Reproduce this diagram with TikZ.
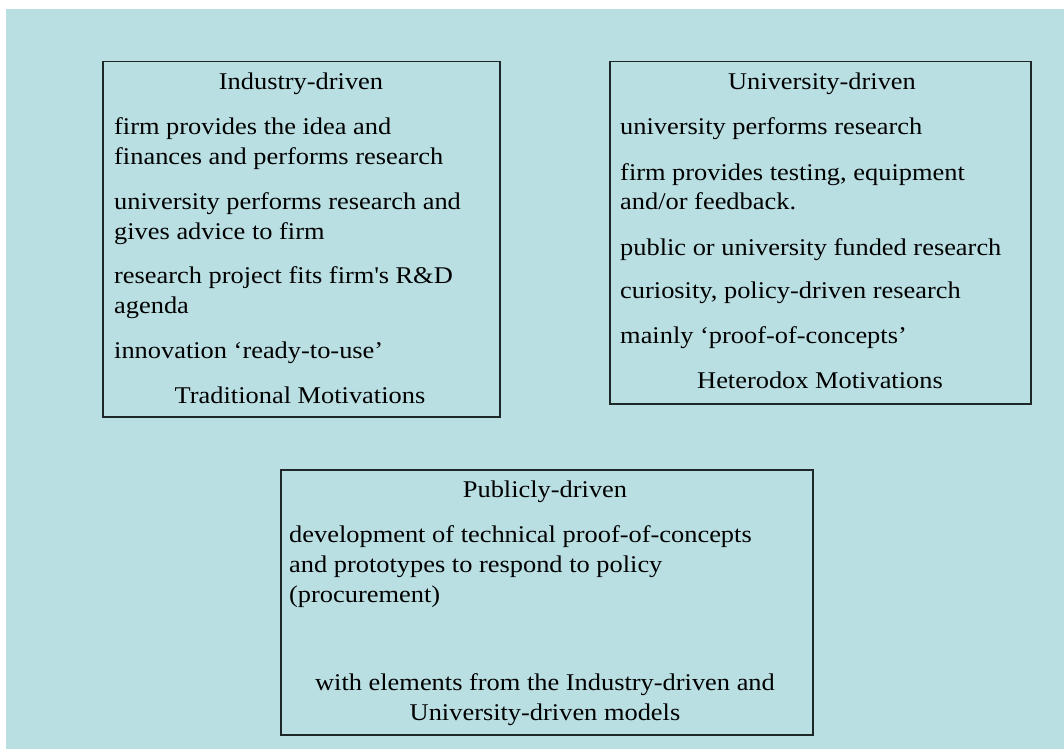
\documentclass[tikz,border=0pt]{standalone}
\usepackage{fontspec}
\setmainfont[FakeStretch=1.1]{Liberation Serif}
\definecolor{bg}{RGB}{185,223,227}
\definecolor{edge}{RGB}{30,38,40}
\begin{document}
\begin{tikzpicture}[x=1pt,y=-1pt,
  box/.style={draw=edge, line width=1.5pt, inner sep=0pt, anchor=north west},
  txt/.style={anchor=base west, inner sep=0pt, font=\fontsize{24}{29}\selectfont, text=black},
  ctr/.style={anchor=base, inner sep=0pt, font=\fontsize{24}{29}\selectfont, text=black}]
\useasboundingbox (0,0) rectangle (1064,749);
\fill[white] (0,0) rectangle (1064,749);
\fill[bg] (6,9) rectangle (1064,749);
% boxes
\node[box, minimum width=397pt, minimum height=355pt] (b1) at (102,61) {};
\node[box, minimum width=421pt, minimum height=342pt] (b2) at (609,61) {};
\node[box, minimum width=532pt, minimum height=265pt] (b3) at (280,469) {};
% box 1
\node[ctr] (t1) at (301,90) {Industry-driven};
\node[txt] (a1) at (114,135) {firm provides the idea and};
\node[txt] (a2) at (114,164) {finances and performs research};
\node[txt] (a3) at (114,209) {university performs research and};
\node[txt] (a4) at (114,239) {gives advice to firm};
\node[txt] (a5) at (114,283) {research project fits firm\textquotesingle s R\&D};
\node[txt] (a6) at (114,313) {agenda};
\node[txt] (a7) at (114,358) {innovation ‘ready-to-use’};
\node[ctr] (m1) at (300,403) {Traditional Motivations};
% box 2
\node[ctr] (t2) at (822,90) {University-driven};
\node[txt] (c1) at (620,135) {university performs research};
\node[txt] (c2) at (620,180) {firm provides testing, equipment};
\node[txt] (c3) at (620,209) {and/or feedback.};
\node[txt] (c4) at (620,255) {public or university funded research};
\node[txt] (c5) at (620,298) {curiosity, policy-driven research};
\node[txt] (c6) at (620,343) {mainly ‘proof-of-concepts’};
\node[ctr] (m2) at (820,388) {Heterodox Motivations};
% box 3
\node[ctr] (t3) at (545,497) {Publicly-driven};
\node[txt] (d1) at (289,542) {development of technical proof-of-concepts};
\node[txt] (d2) at (289,572) {and prototypes to respond to policy};
\node[txt] (d3) at (289,602) {(procurement)};
\node[ctr] (e1) at (545,690) {with elements from the Industry-driven and};
\node[ctr] (e2) at (545,720) {University-driven models};
\end{tikzpicture}
\end{document}
